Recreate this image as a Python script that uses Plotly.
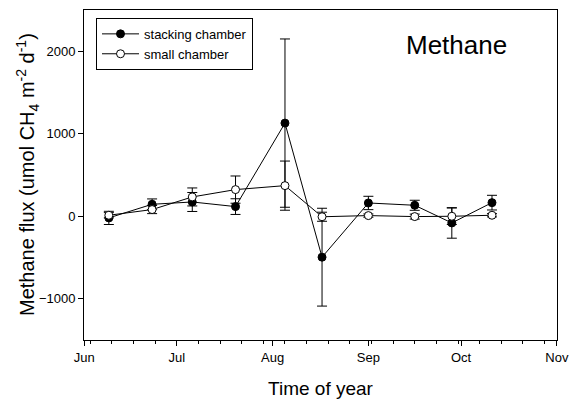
import plotly.graph_objects as go

dates = ["2006-06-09", "2006-06-23", "2006-07-06", "2006-07-20", "2006-08-05",
         "2006-08-17", "2006-09-01", "2006-09-16", "2006-09-28", "2006-10-11"]

stacking = [-20, 145, 173, 117, 1129, -496, 161, 133, -81, 165]
stacking_err = [80, 65, 115, 95, 1020, 593, 81, 61, 185, 89]

small = [12, 81, 234, 323, 371, -6, 8, -4, 0, 12]
small_err = [32, 49, 109, 165, 298, 55, 20, 30, 100, 20]

tick_vals = ["2006-06-01", "2006-07-01", "2006-08-01", "2006-09-01", "2006-10-01", "2006-11-01"]
tick_text = ["Jun", "Jul", "Aug", "Sep", "Oct", "Nov"]
y_ticks = [-1000, 0, 1000, 2000]

FONT = "Arial, Liberation Sans, sans-serif"

fig = go.Figure()
fig.add_trace(go.Scatter(
    x=dates, y=stacking, name="stacking chamber", mode="lines+markers",
    line=dict(color="black", width=1),
    marker=dict(symbol="circle", size=8, color="black", line=dict(color="black", width=1)),
    error_y=dict(type="data", array=stacking_err, visible=True, color="black", thickness=1, width=5),
))
fig.add_trace(go.Scatter(
    x=dates, y=small, name="small chamber", mode="lines+markers",
    line=dict(color="black", width=1),
    marker=dict(symbol="circle", size=8, color="white", line=dict(color="black", width=1)),
    error_y=dict(type="data", array=small_err, visible=True, color="black", thickness=1, width=5),
))

fig.add_annotation(text="Methane", x=0.787, y=0.895, xref="paper", yref="paper",
                   showarrow=False, font=dict(size=26, color="black", family=FONT),
                   xanchor="center", yanchor="middle")

fig.add_annotation(text="Methane flux (umol CH<sub>4</sub> m<sup>-2</sup> d<sup>-1</sup>)",
                   x=-0.1205, y=0.5, xref="paper", yref="paper", textangle=-90,
                   showarrow=False, font=dict(size=20, color="black", family=FONT),
                   xanchor="center", yanchor="middle")

fig.update_layout(
    width=569, height=403,
    margin=dict(l=84, r=12, t=10, b=63),
    paper_bgcolor="white", plot_bgcolor="white",
    font=dict(family=FONT, color="black", size=13),
    showlegend=True,
    legend=dict(x=0.0254, y=0.976, xanchor="left", yanchor="top",
                bordercolor="black", borderwidth=1, bgcolor="white",
                font=dict(size=13, family=FONT), tracegroupgap=0, itemwidth=37),
    xaxis=dict(
        type="date", range=["2006-05-31 23:00", "2006-11-01 01:00"],
        tickmode="array", tickvals=tick_vals, ticktext=tick_text,
        ticks="outside", ticklen=5, tickwidth=1, tickcolor="black",
        showline=True, linecolor="black", linewidth=1, mirror=True,
        showgrid=False, zeroline=False,
        tickfont=dict(size=13, family=FONT),
        minor=dict(dtick=7 * 86400000, tick0="2006-07-01", ticks="outside",
                   ticklen=3, tickcolor="black", showgrid=False),
        title=dict(text="Time of year", font=dict(size=19, family=FONT), standoff=18),
        automargin=False,
    ),
    yaxis=dict(
        range=[-1500, 2500], tickmode="array", tickvals=y_ticks,
        ticks="outside", ticklen=5, tickwidth=1, tickcolor="black",
        showline=True, linecolor="black", linewidth=1, mirror=True,
        showgrid=False, zeroline=False,
        tickfont=dict(size=13, family=FONT),
        automargin=False,
    ),
)

fig.write_html("out.html")
